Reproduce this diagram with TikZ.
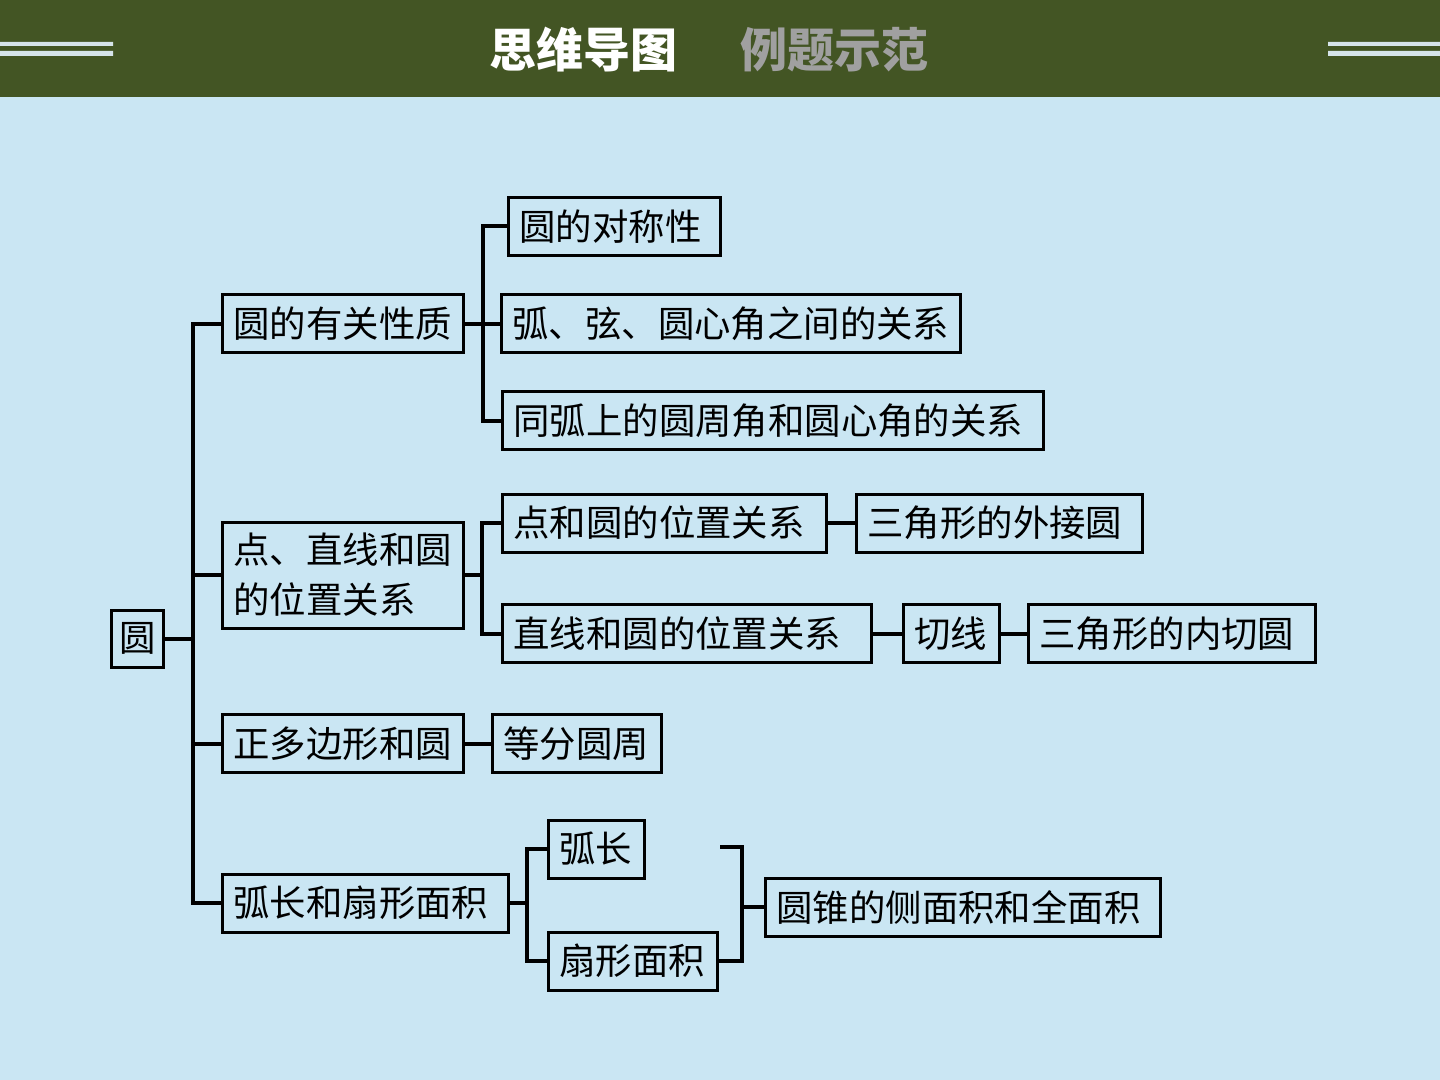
\documentclass[tikz,border=0pt]{standalone}
\usepackage{fontspec}
\newfontfamily\cjk{Noto Sans CJK SC}
\usetikzlibrary{positioning}
\definecolor{hdrgreen}{RGB}{67,85,36}
\definecolor{paper}{RGB}{202,230,243}
\definecolor{ruleline}{RGB}{214,228,234}
\definecolor{subgray}{RGB}{160,160,160}

\begin{document}
\begin{tikzpicture}[x=0.5pt, y=-0.5pt,
    box/.style={draw, line width=1.5pt, font=\cjk\fontsize{18.2pt}{25pt}\selectfont, align=left, inner xsep=5.5pt, inner ysep=0pt, anchor=west, text width=#1, minimum height=29pt},
    box/.default=100pt,
    link/.style={draw, line width=2pt},
    title/.style={font=\cjk\bfseries\fontsize{23.5pt}{28pt}\selectfont, text=white}
]
    \useasboundingbox (0,0) rectangle (1440,1080);
    \fill[paper] (0,0) rectangle (1440,1080);
    % header
    \fill[hdrgreen] (0,0) rectangle (1440,97);
    \fill[ruleline] (0,42) rectangle (113,46) (0,51) rectangle (113,56);
    \fill[ruleline] (1328,42) rectangle (1440,46) (1328,51) rectangle (1440,56);
    \node[title] (T1) at (583,50) {思维导图};
    \node[title, text=subgray] (T2) at (834,50) {例题示范};

    % root and second level
    \node[box=18pt, inner xsep=4pt, align=center, anchor=center, minimum height=28.5pt] (Y) at (137.5,638.5) {圆};
    \node[box=109.5pt] (P) at (221,324) {圆的有关性质};
    \node[box=109.5pt, minimum height=53pt] (Q) at (221,575) {点、直线和圆\\的位置关系};
    \node[box=109.5pt] (R) at (221,743.5) {正多边形和圆};
    \node[box=132pt] (A) at (221,903) {弧长和扇形面积};

    % third level
    \node[box=95pt] (P1) at (507,226.5) {圆的对称性};
    \node[box=218.5pt, right=17.5pt of P] (P2) {弧、弦、圆心角之间的关系};
    \node[box=259.5pt] (P3) at (501,421) {同弧上的圆周角和圆心角的关系};
    \node[box=151pt] (Q1) at (501,523) {点和圆的位置关系};
    \node[box=132pt, right=13.5pt of Q1] (Q11) {三角形的外接圆};
    \node[box=173.5pt] (Q2) at (501,633.5) {直线和圆的位置关系};
    \node[box=37pt, right=14.5pt of Q2] (Q21) {切线};
    \node[box=132.5pt, right=13pt of Q21] (Q22) {三角形的内切圆};
    \node[box=73.5pt, right=13pt of R] (R1) {等分圆周};
    \node[box=37pt] (A1) at (547,849) {弧长};
    \node[box=73.5pt] (A2) at (547,961) {扇形面积};
    \node[box=186.5pt] (A3) at (764,907) {圆锥的侧面积和全面积};

    % junctions
    \coordinate (S0) at (193,638.5);
    \coordinate (S1) at (483,324);
    \coordinate (S2) at ([xshift=8.5pt]Q.east);
    \coordinate (S4) at ([xshift=8.5pt]A.east);
    \coordinate (B1) at (720,847);
    \coordinate (B2) at ([xshift=-11pt]A3.west);

    % connectors
    \path[link] (Y) -- (S0);
    \path[link] (P.west) -| (S0) |- (A.west);
    \path[link] (Q.west) -- (Q.west -| S0);
    \path[link] (R.west) -- (R.west -| S0);
    \path[link] (P) -- (S1) -- (P2);
    \path[link] (P1.west) -| (S1) |- (P3.west);
    \path[link] (Q) -- (S2);
    \path[link] (Q1.west) -| (S2) |- (Q2.west);
    \path[link] (Q1) -- (Q11);
    \path[link] (Q2) -- (Q21);
    \path[link] (Q21) -- (Q22);
    \path[link] (R) -- (R1);
    \path[link] (A) -- (S4);
    \path[link] (A1.west) -| (S4) |- (A2.west);
    \path[link] (B1) -| (B2) |- (A2.east);
    \path[link] (B2) -- (A3);
\end{tikzpicture}
\end{document}
